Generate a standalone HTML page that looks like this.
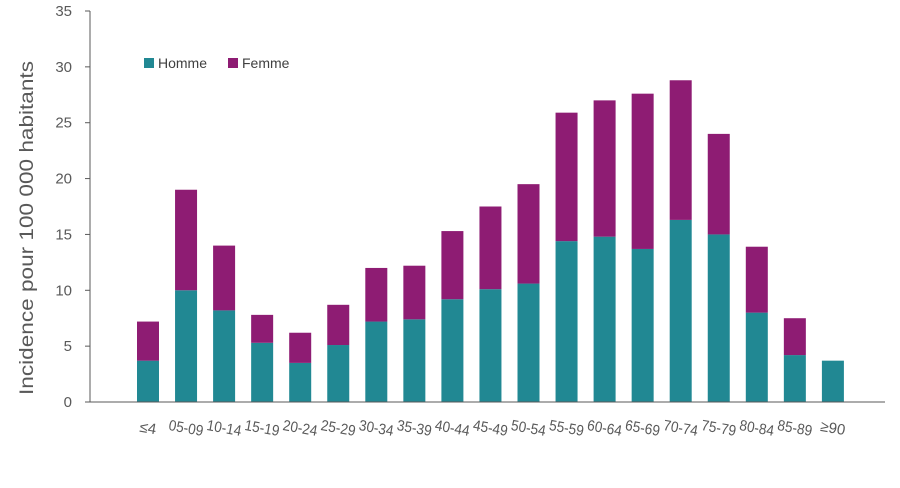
<!DOCTYPE html>
<html><head><meta charset="utf-8"><style>
html,body{margin:0;padding:0;background:#fff;}
svg{display:block;font-family:"Liberation Sans","DejaVu Sans",sans-serif;}
</style></head><body>
<svg id="chart" width="900" height="488"></svg>
<script>
const categories=["≤4","05-09","10-14","15-19","20-24","25-29","30-34","35-39","40-44","45-49","50-54","55-59","60-64","65-69","70-74","75-79","80-84","85-89","≥90"];
const homme=[3.7,10.0,8.2,5.3,3.5,5.1,7.2,7.4,9.2,10.1,10.6,14.4,14.8,13.7,16.3,15.0,8.0,4.2,3.7];
const femme=[3.5,9.0,5.8,2.5,2.7,3.6,4.8,4.8,6.1,7.4,8.9,11.5,12.2,13.9,12.5,9.0,5.9,3.3,0];
const yTicks=[0,5,10,15,20,25,30,35];
const NS="http://www.w3.org/2000/svg";
const svg=document.getElementById('chart');
const y=v=>402-v*391/35;
const x=i=>148+i*38.05;
function mk(t,a,p){const e=document.createElementNS(NS,t);for(const k in a)e.setAttribute(k,a[k]);(p||svg).appendChild(e);return e;}
const yAxis=mk('line',{x1:90,y1:11,x2:90,y2:402,stroke:'#595959','stroke-width':1});


yTicks.forEach(v=>{
 const tk=mk('line',{x1:85,x2:90,y1:y(v),y2:y(v),stroke:'#595959'});
 
 
 const t=mk('text',{x:72,y:y(v)+5,'text-anchor':'end','font-size':15,fill:'#595959'});
 t.textContent=v;
 
 
});
categories.forEach((c,i)=>{
 const cx=x(i);
 const b1=mk('rect',{x:cx-11,width:22,y:y(homme[i]),height:y(0)-y(homme[i]),fill:'#218893'});
 
 
 if(femme[i]>0){
 const b2=mk('rect',{x:cx-11,width:22,y:y(homme[i]+femme[i]),height:y(homme[i])-y(homme[i]+femme[i]),fill:'#8E1C73'});
 
 
 }
 const attrs={x:cx,y:433,'text-anchor':'middle','font-size':15,fill:'#595959',transform:`rotate(10 ${cx} 428)`};
 if(c.length>=5){attrs.textLength=35;attrs.lengthAdjust='spacingAndGlyphs';}
 const t=mk('text',attrs);
 t.textContent=c;
 
 
});
const xAxis=mk('line',{x1:90,y1:402,x2:885,y2:402,stroke:'#595959','stroke-width':1});


const yt=mk('text',{x:0,y:0,'text-anchor':'middle','font-size':19,fill:'#595959',textLength:334,lengthAdjust:'spacingAndGlyphs',transform:'translate(33 228) rotate(-90)'});
yt.textContent='Incidence  pour  100 000 habitants';


const l1=mk('rect',{x:144,y:58,width:10,height:10,fill:'#218893'});


const lt1=mk('text',{x:158,y:68,'font-size':14,fill:'#404040'});lt1.textContent='Homme';


const l2=mk('rect',{x:228,y:58,width:10,height:10,fill:'#8E1C73'});


const lt2=mk('text',{x:242,y:68,'font-size':14,fill:'#404040'});lt2.textContent='Femme';


</script>
</body></html>
